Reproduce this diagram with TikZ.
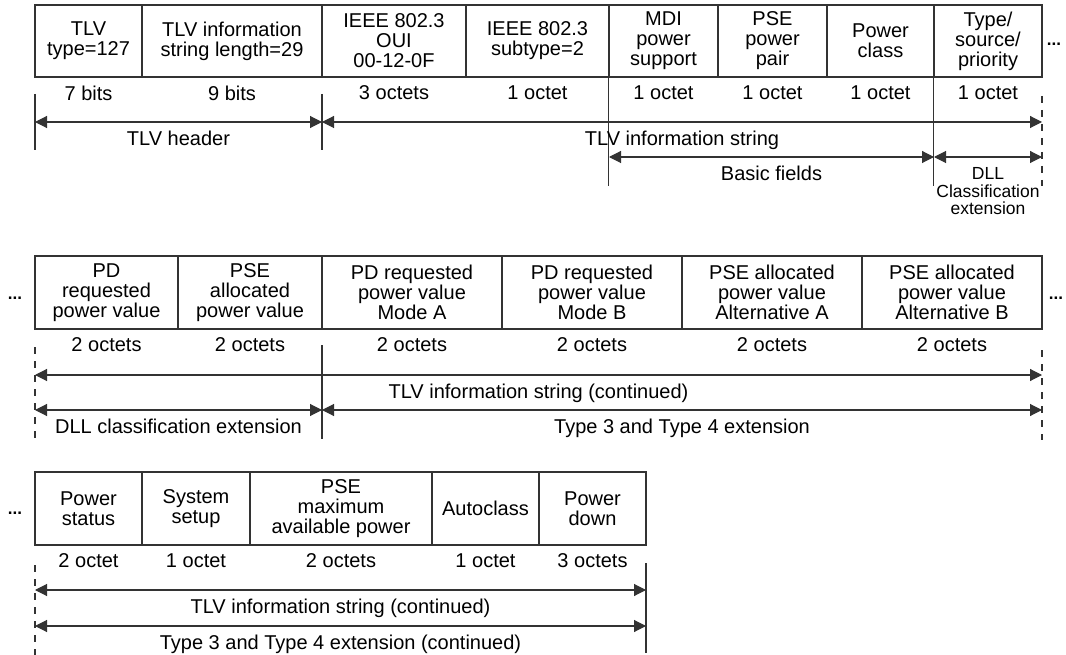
\documentclass[tikz,border=0pt]{standalone}
\usepackage{fontspec}
\setmainfont{Liberation Sans}
\usetikzlibrary{arrows.meta,positioning}
\tikzstyle{field} = [draw=black!80, line width=1.1pt, inner sep=0pt, minimum height=72pt, align=center, font=\fontsize{20}{20}\selectfont]
\tikzstyle{sizelbl} = [inner sep=0pt, font=\fontsize{20}{20}\selectfont]
\tikzstyle{lbl} = [inner sep=0pt, font=\fontsize{20}{20}\selectfont]
\tikzstyle{smalllbl} = [inner sep=0pt, align=center, font=\fontsize{17.5}{17.5}\selectfont]
\tikzstyle{dots} = [inner sep=0pt, font=\fontsize{17}{17}\selectfont\bfseries]
\tikzstyle{line} = [draw=black!80, line width=1.1pt]
\tikzstyle{dim} = [line, <->]
\tikzstyle{dashline} = [line, dash pattern=on 7pt off 7pt]
\tikzset{>={Triangle[length=12pt,width=12pt]}}

\begin{document}
\begin{tikzpicture}[x=1pt,y=-1pt]
    \useasboundingbox (0,0) rectangle (1066,655);

    % first row
    \node [field, minimum width=107pt] (tlvtype) at (88.5,41) {TLV\\type=127};
    \node [field, minimum width=180pt] (strlen) at (232,41) {TLV information\\string length=29};
    \node [field, minimum width=144pt] (oui) at (394,41) {IEEE 802.3\\OUI\\00-12-0F};
    \node [field, minimum width=143pt] (subtype) at (537.5,41) {IEEE 802.3\\subtype=2};
    \node [field, minimum width=109pt] (mdi) at (663.5,41) {MDI\\power\\support};
    \node [field, minimum width=109pt] (pair) at (772.5,41) {PSE\\power\\pair};
    \node [field, minimum width=107pt] (pclass) at (880.5,41) {Power\\class};
    \node [field, minimum width=108pt] (tsp) at (988,41) {Type/\\source/\\priority};
    \node [dots] (dotsa) at (1054,44) {...};

    \node [sizelbl, below=8pt] (sza) at (tlvtype.south) {7 bits};
    \node [sizelbl, below=8pt] (szb) at (strlen.south) {9 bits};
    \node [sizelbl, below=8pt] (szc) at (oui.south) {3 octets};
    \node [sizelbl, below=8pt] (szd) at (subtype.south) {1 octet};
    \node [sizelbl, below=8pt] (sze) at (mdi.south) {1 octet};
    \node [sizelbl, below=8pt] (szf) at (pair.south) {1 octet};
    \node [sizelbl, below=8pt] (szg) at (pclass.south) {1 octet};
    \node [sizelbl, below=8pt] (szh) at (tsp.south) {1 octet};

    \draw [line] (35,94) -- (35,150);
    \draw [line] (322,94) -- (322,150);
    \draw [line] (mdi.south west) -- ++(0,108);
    \draw [line] (tsp.south west) -- ++(0,108);
    \draw [dashline] (1042,96) -- (1042,186);

    \coordinate (ha) at (35,122);
    \coordinate (hb) at (322,122);
    \coordinate (hc) at (1042,122);
    \draw [dim] (ha) -- (hb) node [lbl, midway, below=8pt] (hdr) {TLV header};
    \draw [dim] (hb) -- (hc) node [lbl, midway, below=8pt] (info) {TLV information string};
    \coordinate (ba) at (609,157);
    \coordinate (bb) at (934,157);
    \coordinate (bc) at (1042,157);
    \draw [dim] (ba) -- (bb) node [lbl, midway, below=8pt] (basic) {Basic fields};
    \draw [dim] (bb) -- (bc) node [smalllbl, midway, below=10pt] (dll) {DLL\\Classification\\extension};

    % second row
    \node [field, minimum width=143pt, minimum height=73pt] (pdreq) at (106.5,292.5) {PD\\requested\\power value};
    \node [field, minimum width=144pt, minimum height=73pt] (pseall) at (250,292.5) {PSE\\allocated\\power value};
    \node [field, minimum width=180pt, minimum height=73pt] (modea) at (412,292.5) {PD requested\\power value\\Mode A};
    \node [field, minimum width=180pt, minimum height=73pt] (modeb) at (592,292.5) {PD requested\\power value\\Mode B};
    \node [field, minimum width=180pt, minimum height=73pt] (alta) at (772,292.5) {PSE allocated\\power value\\Alternative A};
    \node [field, minimum width=180pt, minimum height=73pt] (altb) at (952,292.5) {PSE allocated\\power value\\Alternative B};
    \node [dots] (dotsb) at (15,298) {...};
    \node [dots] (dotsc) at (1056,298) {...};

    \node [sizelbl, below=8pt] (szi) at (pdreq.south) {2 octets};
    \node [sizelbl, below=8pt] (szj) at (pseall.south) {2 octets};
    \node [sizelbl, below=8pt] (szk) at (modea.south) {2 octets};
    \node [sizelbl, below=8pt] (szl) at (modeb.south) {2 octets};
    \node [sizelbl, below=8pt] (szm) at (alta.south) {2 octets};
    \node [sizelbl, below=8pt] (szn) at (altb.south) {2 octets};

    \draw [dashline] (35,347) -- (35,443);
    \draw [line] (322,345) -- (322,439);
    \draw [dashline] (1042,350) -- (1042,440);

    \coordinate (ca) at (35,375);
    \coordinate (cb) at (1042,375);
    \draw [dim] (ca) -- (cb) node [lbl, midway, below=8pt] (infob) {TLV information string (continued)};
    \coordinate (da) at (35,410);
    \coordinate (db) at (322,410);
    \coordinate (dc) at (1042,410);
    \draw [dim] (da) -- (db) node [lbl, midway, below=8pt] (dllb) {DLL classification extension};
    \draw [dim] (db) -- (dc) node [lbl, midway, below=8pt] (typeb) {Type 3 and Type 4 extension};

    % third row
    \node [field, minimum width=107pt, minimum height=73pt] (pstat) at (88.5,508.5) {Power\\status};
    \node [field, minimum width=108pt, minimum height=73pt] (setup) at (196,508.5) {System\\setup};
    \node [field, minimum width=182pt, minimum height=73pt] (maxpow) at (341,508.5) {PSE\\maximum\\available power};
    \node [field, minimum width=107pt, minimum height=73pt] (autocl) at (485.5,508.5) {Autoclass};
    \node [field, minimum width=107pt, minimum height=73pt] (pdown) at (592.5,508.5) {Power\\down};
    \node [dots] (dotsd) at (15,513) {...};

    \node [sizelbl, below=8pt] (szo) at (pstat.south) {2 octet};
    \node [sizelbl, below=8pt] (szp) at (setup.south) {1 octet};
    \node [sizelbl, below=8pt] (szq) at (maxpow.south) {2 octets};
    \node [sizelbl, below=8pt] (szr) at (autocl.south) {1 octet};
    \node [sizelbl, below=8pt] (szs) at (pdown.south) {3 octets};

    \draw [dashline] (35,565) -- (35,655);
    \draw [line] (646,563) -- (646,653);

    \coordinate (ea) at (35,590);
    \coordinate (eb) at (646,590);
    \draw [dim] (ea) -- (eb) node [lbl, midway, below=8pt] (infoc) {TLV information string (continued)};
    \coordinate (fa) at (35,626);
    \coordinate (fb) at (646,626);
    \draw [dim] (fa) -- (fb) node [lbl, midway, below=8pt] (typec) {Type 3 and Type 4 extension (continued)};
\end{tikzpicture}
\end{document}
